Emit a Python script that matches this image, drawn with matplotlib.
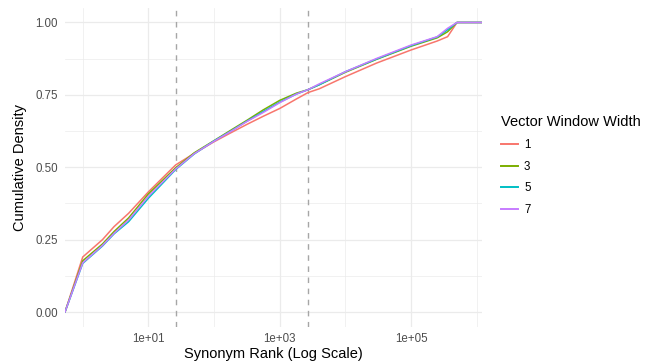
import numpy as np
import matplotlib
matplotlib.use("Agg")
import matplotlib.pyplot as plt

plt.rcParams['font.family'] = ['Liberation Sans', 'DejaVu Sans']

ranks = [1, 2, 3, 5, 10, 26, 50, 100, 180, 316, 560, 1000, 1800, 2700, 4000,
         1e4, 3e4, 1e5, 2.5e5, 3.6e5, 5e5]

# cumulative density per vector window width
w1 = [.190, .250, .295, .341, .415, .508, .548, .588, .619, .648, .676, .703, .736, .758, .771,
      .813, .860, .905, .936, .951, 1.0]
w3 = [.177, .235, .278, .325, .408, .498, .550, .592, .628, .662, .698, .731, .756, .768, .785,
      .828, .873, .918, .947, .968, 1.0]
w5 = [.168, .228, .270, .312, .393, .492, .546, .591, .625, .659, .692, .725, .753, .768, .785,
      .830, .874, .920, .950, .975, 1.0]
w7 = [.170, .230, .272, .318, .400, .494, .547, .590, .624, .658, .689, .723, .753, .768, .788,
      .830, .876, .922, .951, .980, 1.0]

series = {"1": w1, "3": w3, "5": w5, "7": w7}
colors = {"1": "#F8766D", "3": "#7CAE00", "5": "#00BFC4", "7": "#C77CFF"}

# dashed reference ranks
vlines = [26, 2700]

xlo, xhi = 10 ** -0.27, 10 ** 6.08

fig = plt.figure(figsize=(6.48, 3.63), dpi=100)
ax = fig.add_axes([65 / 648, 1 - 326.5 / 363, (482 - 65) / 648, (326.5 - 8) / 363])

ax.set_xscale("log")
ax.set_xlim(xlo, xhi)
ax.set_ylim(-0.05, 1.05)

# grid like theme_minimal
for v in [1, 100, 1e4, 1e6]:
    ax.axvline(v, color="#EBEBEB", lw=0.5, zorder=0)
for v in [10, 1e3, 1e5]:
    ax.axvline(v, color="#EBEBEB", lw=0.9, zorder=0)
for v in [0.125, 0.375, 0.625, 0.875]:
    ax.axhline(v, color="#EBEBEB", lw=0.5, zorder=0)
for v in [0, 0.25, 0.5, 0.75, 1.0]:
    ax.axhline(v, color="#EBEBEB", lw=0.9, zorder=0)

for name, vals in series.items():
    xs = [xlo] + ranks + [xhi]
    ys = [0] + vals + [1.0]
    ax.plot(xs, ys, color=colors[name], lw=1.1, label=name, zorder=3)

for v in vlines:
    ax.axvline(v, color="#A6A6A6", lw=1.0, ls=(0, (4, 4)), zorder=2)

ax.set_xticks([10, 1e3, 1e5])
ax.set_xticklabels(["1e+01", "1e+03", "1e+05"])
ax.xaxis.set_minor_locator(matplotlib.ticker.NullLocator())
ax.set_yticks([0, 0.25, 0.5, 0.75, 1.0])
ax.set_yticklabels(["0.00", "0.25", "0.50", "0.75", "1.00"])
ax.tick_params(length=0, labelsize=8.3, labelcolor="#4D4D4D", pad=5)
for s in ax.spines.values():
    s.set_visible(False)

ax.set_xlabel("Synonym Rank (Log Scale)", fontsize=10.5, labelpad=1)
ax.set_ylabel("Cumulative Density", fontsize=10.5, labelpad=6)

leg = ax.legend(title="Vector Window Width", loc="upper left",
                bbox_to_anchor=(501 / 648, 1 - 115 / 363), bbox_transform=fig.transFigure,
                frameon=False, fontsize=8.3, title_fontsize=10.5,
                handlelength=1.5, handletextpad=0.5, labelspacing=0.85,
                alignment="left", borderaxespad=0, borderpad=0)
for line in leg.get_lines():
    line.set_linewidth(1.4)

fig.savefig("out.png", dpi=100)
